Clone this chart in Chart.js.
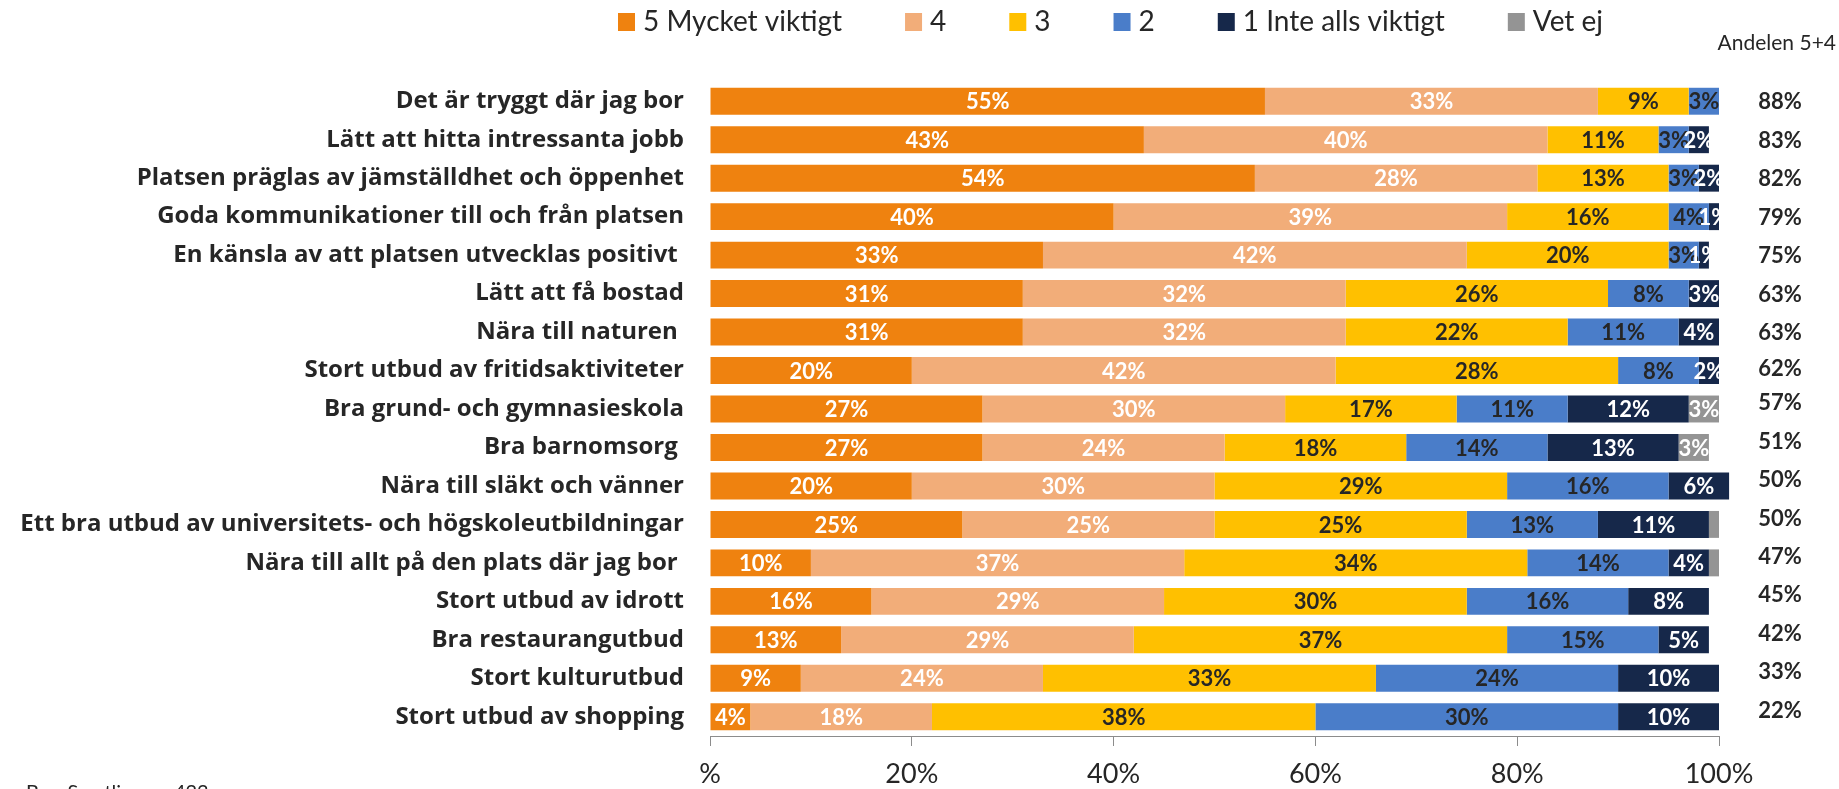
<!DOCTYPE html>
<html>
<head>
<meta charset="utf-8">
<script src="https://cdn.jsdelivr.net/npm/chart.js@4/dist/chart.umd.min.js"></script>
<style>
html, body { margin: 0; padding: 0; background: #fff; overflow: hidden; }
#wrap { width: 1839px; height: 789px; position: relative; }
</style>
</head>
<body>
<div id="wrap"><canvas id="grafico"></canvas></div>
<script>
let categories = [
    "Det är tryggt där jag bor",
    "Lätt att hitta intressanta jobb",
    "Platsen präglas av jämställdhet och öppenhet",
    "Goda kommunikationer till och från platsen",
    "En känsla av att platsen utvecklas positivt ",
    "Lätt att få bostad",
    "Nära till naturen ",
    "Stort utbud av fritidsaktiviteter",
    "Bra grund- och gymnasieskola",
    "Bra barnomsorg ",
    "Nära till släkt och vänner",
    "Ett bra utbud av universitets- och högskoleutbildningar",
    "Nära till allt på den plats där jag bor ",
    "Stort utbud av idrott",
    "Bra restaurangutbud",
    "Stort kulturutbud",
    "Stort utbud av shopping"
];

let seriesNames = ["5 Mycket viktigt", "4", "3", "2", "1 Inte alls viktigt", "Vet ej"];

let mycketViktigt = [55, 43, 54, 40, 33, 31, 31, 20, 27, 27, 20, 25, 10, 16, 13, 9, 4];
let fyra          = [33, 40, 28, 39, 42, 32, 32, 42, 30, 24, 30, 25, 37, 29, 29, 24, 18];
let tre           = [9, 11, 13, 16, 20, 26, 22, 28, 17, 18, 29, 25, 34, 30, 37, 33, 38];
let tva           = [3, 3, 3, 4, 3, 8, 11, 8, 11, 14, 16, 13, 14, 16, 15, 24, 30];
let inteAlls      = [0, 2, 2, 1, 1, 3, 4, 2, 12, 13, 6, 11, 4, 8, 5, 10, 10];
let vetEj         = [0, 0, 0, 0, 0, 0, 0, 0, 3, 3, 0, 1, 1, 0, 0, 0, 0];

let xTicks = ["%", "20%", "40%", "60%", "80%", "100%"];

let colors = ["#EF820F", "#F2AD79", "#FFC000", "#4A7DC9", "#16284A", "#949494"];
let labelColors = ["#fff", "#fff", "#262626", "#262626", "#fff", "#fff"];

const FONT = "Lato, 'Liberation Sans', sans-serif";
const CAT_FONT = "'Open Sans', Lato, sans-serif";
const DARK = "#262626";

let allSeries = [mycketViktigt, fyra, tre, tva, inteAlls, vetEj];

// andelen 5+4 column
let andelen = mycketViktigt.map((v, i) => v + fyra[i]);

const segmentLabels = {
    id: 'segmentLabels',
    afterDatasetsDraw(chart) {
        let ctx = chart.ctx;
        ctx.save();
        ctx.font = `bold 22px ${FONT}`;
        ctx.textAlign = 'center';
        ctx.textBaseline = 'middle';
        chart.data.datasets.forEach((ds, d) => {
            let meta = chart.getDatasetMeta(d);
            meta.data.forEach((bar, i) => {
                let v = ds.data[i];
                if (!v) return;
                if (d === 5 && v < 2) return;
                ctx.fillStyle = labelColors[d];
                ctx.fillText(v + '%', (bar.x + bar.base) / 2, bar.y + 1);
            });
        });
        ctx.restore();
    }
};

const extras = {
    id: 'extras',
    afterDraw(chart) {
        let ctx = chart.ctx;
        let y = chart.scales.y;
        ctx.save();

        // legend
        ctx.font = `28px ${FONT}`;
        ctx.textBaseline = 'middle';
        ctx.textAlign = 'left';
        let lx = 618;
        seriesNames.forEach((name, d) => {
            ctx.fillStyle = colors[d];
            ctx.fillRect(lx, 13, 17, 18);
            ctx.fillStyle = DARK;
            ctx.fillText(name, lx + 25, 22);
            lx += 25 + ctx.measureText(name).width + 63;
        });

        ctx.font = `21px ${FONT}`;
        ctx.textAlign = 'right';
        ctx.fillText('Andelen 5+4', 1836, 43);

        // right column
        ctx.font = `bold 22px ${FONT}`;
        ctx.textAlign = 'center';
        andelen.forEach((v, i) => {
            let off = i >= 8 ? -7 : (i === 7 ? -3 : 0);
            ctx.fillText(v + '%', 1780, y.getPixelForValue(i) + 1 + off);
        });

        ctx.font = `20px ${FONT}`;
        ctx.textAlign = 'left';
        ctx.textBaseline = 'top';
        ctx.fillText('Bas: Samtliga, n=423', 26, 783);
        ctx.restore();
    }
};

const graphic = new Chart("grafico", {
    type: "bar",
    data: {
        labels: categories,
        datasets: allSeries.map((s, d) => ({
            label: seriesNames[d],
            data: s,
            backgroundColor: colors[d],
            borderWidth: 0,
            barPercentage: 0.7,
            categoryPercentage: 1,
            clip: false
        }))
    },
    options: {
        indexAxis: 'y',
        responsive: true,
        maintainAspectRatio: false,
        animation: false,
        layout: { padding: { top: 82, right: 120, left: 0, bottom: 0 } },
        plugins: {
            legend: { display: false },
            tooltip: { enabled: false }
        },
        scales: {
            x: {
                stacked: true,
                min: 0,
                max: 100,
                afterFit: s => { s.height = 53; },
                ticks: {
                    stepSize: 20,
                    callback: (v, i) => xTicks[i],
                    font: { family: FONT, size: 27 },
                    color: DARK,
                    padding: 12,
                    maxRotation: 0
                },
                grid: {
                    drawOnChartArea: false,
                    drawTicks: true,
                    tickLength: 10,
                    color: '#8C8C8C'
                },
                border: { display: true, color: '#8C8C8C', width: 1 }
            },
            y: {
                stacked: true,
                afterFit: s => { s.width = 710; },
                ticks: {
                    font: { family: CAT_FONT, size: 24, weight: 'bold' },
                    color: DARK,
                    padding: 26,
                    autoSkip: false
                },
                grid: { display: false, drawTicks: false },
                border: { display: false }
            }
        }
    },
    plugins: [segmentLabels, extras]
});
</script>
</body>
</html>
